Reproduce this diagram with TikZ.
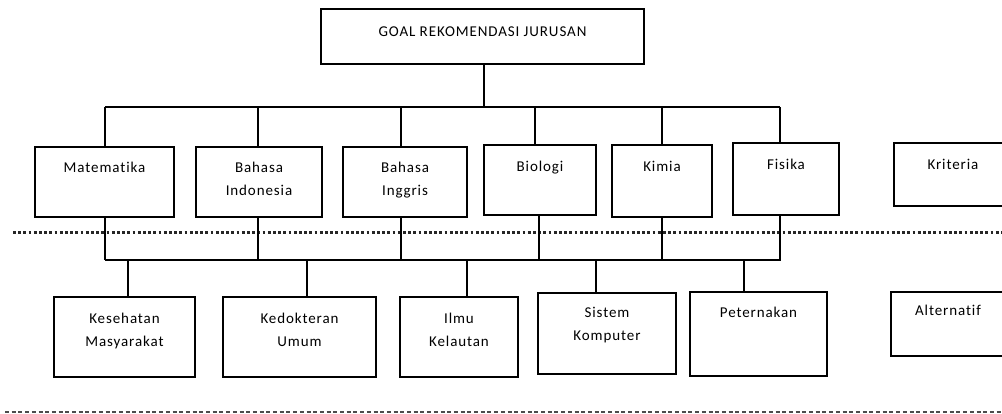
\documentclass[tikz,border=0pt]{standalone}
\usepackage{fontspec}
\setmainfont{Carlito}[LetterSpace=6, Ligatures=NoCommon]
\begin{document}
\begin{tikzpicture}[x=1pt,y=-1pt,
  box/.style={draw, line width=1.3pt, inner sep=0pt, rectangle},
  txt/.style={anchor=base, inner sep=0pt, font=\fontsize{15}{23}\selectfont},
  link/.style={line width=1.4pt},
  bus/.style={line width=2.4pt},
  levelsep/.style={line width=3pt, black!85, dash pattern=on 2.7pt off 2.5pt},
  bottomsep/.style={line width=1.2pt, black!70, dash pattern=on 4pt off 2.7pt}]
\useasboundingbox (0,0) rectangle (1002,414);
\clip (0,0) rectangle (1002,414);

% goal
\node[box, minimum width=323pt, minimum height=55pt,
  label={[txt, yshift=-28pt]north:{\parbox[t]{300pt}{\centering GOAL REKOMENDASI JURUSAN}}}]
  (goal) at (482.5,36.5) {};

% criteria
\node[box, minimum width=139pt, minimum height=70pt,
  label={[txt, yshift=-26pt]north:{\parbox[t]{130pt}{\centering Matematika}}}]
  (mat) at (104.5,182) {};
\node[box, minimum width=126pt, minimum height=70pt,
  label={[txt, yshift=-26pt]north:{\parbox[t]{120pt}{\centering Bahasa\\Indonesia}}}]
  (ind) at (259,182) {};
\node[box, minimum width=124pt, minimum height=70pt,
  label={[txt, yshift=-26pt]north:{\parbox[t]{120pt}{\centering Bahasa\\Inggris}}}]
  (ing) at (405,182) {};
\node[box, minimum width=112pt, minimum height=70pt,
  label={[txt, yshift=-27pt]north:{\parbox[t]{110pt}{\centering Biologi}}}]
  (bio) at (540,180) {};
\node[box, minimum width=100pt, minimum height=72pt,
  label={[txt, yshift=-27pt]north:{\parbox[t]{100pt}{\centering Kimia}}}]
  (kim) at (662,181) {};
\node[box, minimum width=106pt, minimum height=72pt,
  label={[txt, yshift=-27pt]north:{\parbox[t]{100pt}{\centering Fisika}}}]
  (fis) at (786,179) {};
\node[box, minimum width=118pt, minimum height=63pt,
  label={[txt, yshift=-27pt]north:{\parbox[t]{110pt}{\centering Kriteria}}}]
  (krit) at (953,174.5) {};

% alternatives
\node[box, minimum width=141pt, minimum height=80pt,
  label={[txt, yshift=-27pt]north:{\parbox[t]{140pt}{\centering Kesehatan\\Masyarakat}}}]
  (kes) at (124.5,337) {};
\node[box, minimum width=153pt, minimum height=80pt,
  label={[txt, yshift=-27pt]north:{\parbox[t]{150pt}{\centering Kedokteran\\Umum}}}]
  (ked) at (299.5,337) {};
\node[box, minimum width=118pt, minimum height=80pt,
  label={[txt, yshift=-27pt]north:{\parbox[t]{110pt}{\centering Ilmu\\Kelautan}}}]
  (ilm) at (459,337) {};
\node[box, minimum width=138pt, minimum height=81pt,
  label={[txt, yshift=-25pt]north:{\parbox[t]{130pt}{\centering Sistem\\Komputer}}}]
  (sis) at (607,333.5) {};
\node[box, minimum width=137pt, minimum height=84pt,
  label={[txt, yshift=-26pt]north:{\parbox[t]{130pt}{\centering Peternakan}}}]
  (pet) at (758.5,334) {};
\node[box, minimum width=114pt, minimum height=64pt,
  label={[txt, yshift=-24pt]north:{\parbox[t]{110pt}{\centering Alternatif}}}]
  (alt) at (948,324) {};

% level separators
\coordinate (sepL) at (13,233);
\coordinate (sepR) at (1002,233);
\draw[levelsep] (sepL) -- (sepR);
\coordinate (endL) at (5,412);
\coordinate (endR) at (1002,412);
\draw[bottomsep] (endL) -- (endR);

% buses
\coordinate (topL) at (105,107);
\coordinate (topR) at (780,107);
\coordinate (lowL) at (105,260);
\coordinate (lowR) at (781,260);
\draw[bus] (topL) -- (topR);
\draw[bus] (lowL) -- (lowR);

% goal to criteria
\draw[link] ([xshift=1.5pt]goal.south) -- ([xshift=1.5pt]goal.south |- topL);
\foreach \n/\a/\b in {mat/0.5/0.5, ind/-1/-1, ing/-4/-4, bio/-5/-1, kim/0/0, fis/-6/-6}{
  \draw[link] ([xshift=\a pt]\n.north) -- ([xshift=\a pt]\n.north |- topL);
  \draw[link] ([xshift=\b pt]\n.south) -- ([xshift=\b pt]\n.south |- lowL);
}

% criteria to alternatives
\foreach \n/\a in {kes/3.5, ked/7.5, ilm/8, sis/-11, pet/-14.5}{
  \draw[link] ([xshift=\a pt]\n.north) -- ([xshift=\a pt]\n.north |- lowL);
}
\end{tikzpicture}
\end{document}
